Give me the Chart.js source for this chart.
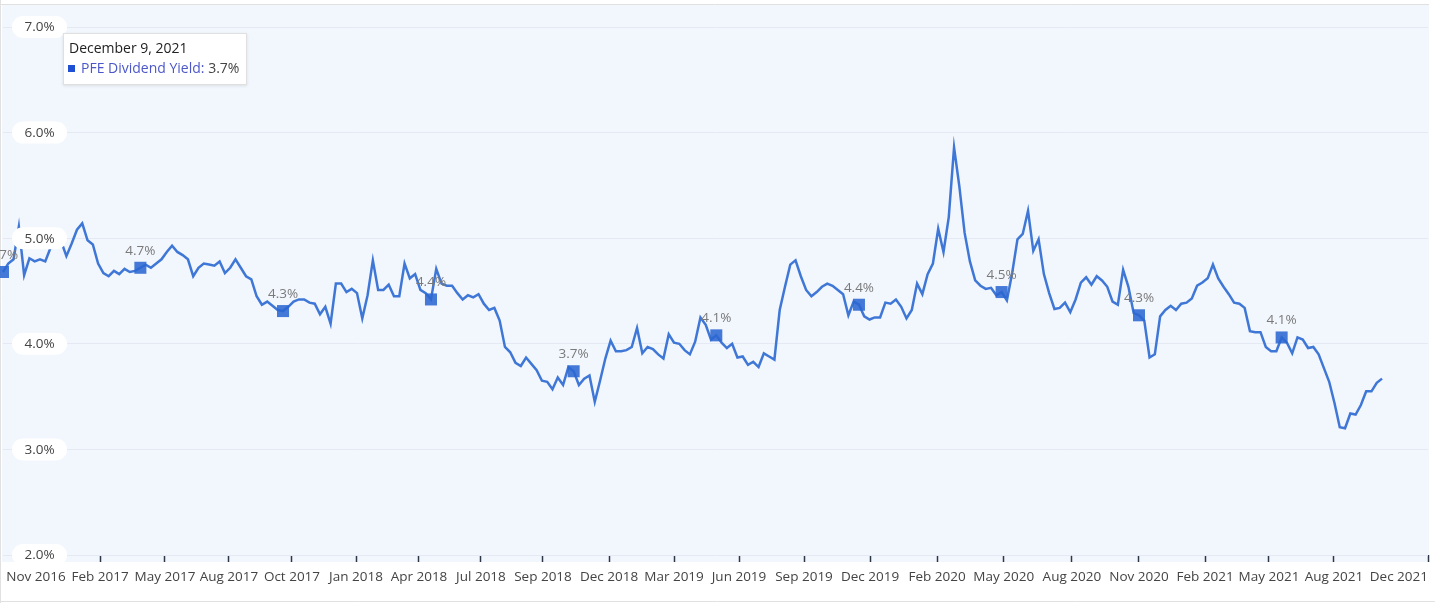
<!DOCTYPE html>
<html>
<head>
<meta charset="utf-8">
<title>PFE Dividend Yield</title>
<script src="https://cdn.jsdelivr.net/npm/chart.js@4/dist/chart.umd.min.js"></script>
<style>
  html, body { margin: 0; padding: 0; background: #fff; }
  #wrap { position: relative; width: 1435px; height: 603px; }
  #tip {
    position: absolute; left: 63px; top: 33px; width: 184px; height: 52px;
    box-sizing: border-box; background: #fff; border: 1px solid #e0e0e0;
    box-shadow: 0 1px 3px rgba(0,0,0,0.10);
    font: 14px "Open Sans", sans-serif;
  }
  #tip .t { position: absolute; left: 5px; top: 4px; line-height: 19px; color: #222; white-space: nowrap; }
  #tip .b { position: absolute; left: 4px; top: 24px; line-height: 19px; color: #444; white-space: nowrap; }
  #tip .sq { display: inline-block; width: 7px; height: 7px; background: #1f4fd3; margin-right: 6px; vertical-align: 1px; }
  #tip .lab { color: #4b57c9; }
</style>
</head>
<body>
<div id="wrap">
  <canvas id="yieldChart" width="1435" height="603"></canvas>
  <div id="tip">
    <div class="t" id="tipDate"></div>
    <div class="b"><span class="sq"></span><span class="lab" id="tipLabel"></span> <span id="tipValue"></span></div>
  </div>
</div>
<script>
// weekly dividend yield (%)
const yieldValues = [
  4.68, 4.76, 4.80, 5.11, 4.65, 4.81, 4.78, 4.80, 4.78, 4.91,
  4.97, 4.97, 4.83, 4.95, 5.08, 5.14, 4.98, 4.94, 4.76, 4.67,
  4.64, 4.69, 4.66, 4.71, 4.68, 4.69, 4.72, 4.75, 4.72, 4.76,
  4.80, 4.87, 4.93, 4.87, 4.84, 4.80, 4.64, 4.72, 4.76, 4.75,
  4.74, 4.78, 4.67, 4.72, 4.80, 4.72, 4.64, 4.61, 4.45, 4.37,
  4.40, 4.36, 4.32, 4.31, 4.35, 4.40, 4.42, 4.42, 4.39, 4.38,
  4.28, 4.35, 4.19, 4.57, 4.57, 4.49, 4.52, 4.48, 4.24, 4.46,
  4.79, 4.51, 4.51, 4.56, 4.45, 4.45, 4.76, 4.62, 4.66, 4.51,
  4.48, 4.42, 4.71, 4.57, 4.55, 4.55, 4.48, 4.42, 4.46, 4.44,
  4.47, 4.38, 4.32, 4.34, 4.22, 3.97, 3.92, 3.82, 3.79, 3.87,
  3.81, 3.75, 3.65, 3.64, 3.57, 3.68, 3.61, 3.78, 3.74, 3.61,
  3.67, 3.70, 3.45, 3.65, 3.86, 4.03, 3.93, 3.93, 3.94, 3.97,
  4.15, 3.91, 3.97, 3.95, 3.90, 3.86, 4.09, 4.01, 4.00, 3.94,
  3.90, 4.02, 4.25, 4.18, 4.04, 4.08, 4.01, 3.96, 4.00, 3.87,
  3.88, 3.80, 3.83, 3.78, 3.91, 3.88, 3.85, 4.32, 4.54, 4.75,
  4.79, 4.64, 4.51, 4.45, 4.49, 4.54, 4.57, 4.55, 4.51, 4.47,
  4.27, 4.40, 4.37, 4.26, 4.23, 4.25, 4.25, 4.39, 4.38, 4.42,
  4.35, 4.24, 4.32, 4.57, 4.47, 4.66, 4.76, 5.09, 4.87, 5.20,
  5.86, 5.49, 5.05, 4.78, 4.60, 4.55, 4.52, 4.53, 4.46, 4.49,
  4.41, 4.67, 4.99, 5.04, 5.26, 4.88, 4.99, 4.66, 4.48, 4.33,
  4.34, 4.39, 4.30, 4.42, 4.58, 4.63, 4.56, 4.64, 4.60, 4.54,
  4.40, 4.37, 4.70, 4.54, 4.29, 4.27, 4.22, 3.87, 3.90, 4.26,
  4.32, 4.36, 4.32, 4.38, 4.39, 4.43, 4.55, 4.58, 4.62, 4.75,
  4.62, 4.54, 4.47, 4.39, 4.38, 4.34, 4.12, 4.11, 4.11, 3.97,
  3.93, 3.93, 4.06, 4.01, 3.91, 4.06, 4.04, 3.96, 3.97, 3.90,
  3.77, 3.64, 3.44, 3.21, 3.20, 3.34, 3.33, 3.42, 3.55, 3.55,
  3.63, 3.67
];

// weeks that carry a square marker + value label
const markerIndex = [0, 26, 53, 81, 108, 135, 162, 189, 215, 242];

// x axis: week position of each date label (last one sits on the axis end)
const tickWeeks = [6.25, 18.36, 30.66, 42.77, 54.69, 66.81, 78.73, 90.46, 102.2, 114.7, 127.0,
  139.3, 151.6, 164.1, 176.8, 189.4, 202.3, 215.0, 227.5, 239.6, 251.9, 269.7];
const tickLabels = ["Nov 2016", "Feb 2017", "May 2017", "Aug 2017", "Oct 2017", "Jan 2018",
  "Apr 2018", "Jul 2018", "Sep 2018", "Dec 2018", "Mar 2019", "Jun 2019", "Sep 2019",
  "Dec 2019", "Feb 2020", "May 2020", "Aug 2020", "Nov 2020", "Feb 2021", "May 2021",
  "Aug 2021", "Dec 2021"];
const yTicks = [2, 3, 4, 5, 6, 7];

const seriesName = "PFE Dividend Yield";
const tooltipDate = "December 9, 2021";

const FONT = '"Open Sans", sans-serif';

const backdrop = {
  id: 'backdrop',
  beforeDraw(chart) {
    const { ctx, chartArea: a, width, height } = chart;
    ctx.save();
    ctx.fillStyle = '#fff';
    ctx.fillRect(0, 0, width, height);
    ctx.fillStyle = '#f2f6fd';
    ctx.fillRect(2, 5, a.right - 1, a.bottom + 7 - 5);
    ctx.strokeStyle = '#e1e1e1';
    ctx.lineWidth = 1;
    ctx.beginPath();
    ctx.moveTo(0, 4.5); ctx.lineTo(a.right + 1, 4.5);
    ctx.moveTo(0.5, 0); ctx.lineTo(0.5, height);
    ctx.moveTo(0, 601.5); ctx.lineTo(width, 601.5);
    ctx.stroke();
    ctx.restore();
  }
};

// white pill labels for y ticks + value labels over the markers
const overlays = {
  id: 'overlays',
  afterDatasetsDraw(chart) {
    const ctx = chart.ctx;
    const y = chart.scales.y;
    ctx.save();
    ctx.font = '13.5px ' + FONT;
    ctx.textAlign = 'center';
    ctx.textBaseline = 'middle';

    const meta = chart.getDatasetMeta(0);
    ctx.fillStyle = '#7a7a7a';
    markerIndex.forEach(i => {
      const p = meta.data[i];
      ctx.fillText(yieldValues[i].toFixed(1) + '%', p.x, p.y - 17);
    });

    y.ticks.forEach(t => {
      const py = y.getPixelForValue(t.value);
      ctx.fillStyle = '#fff';
      ctx.beginPath();
      ctx.roundRect(12, py - 11, 55, 22, 11);
      ctx.fill();
      ctx.fillStyle = '#444';
      ctx.fillText(t.value.toFixed(1) + '%', 39.5, py + 0.5);
    });
    ctx.restore();
  }
};

new Chart(document.getElementById('yieldChart'), {
  type: 'line',
  data: {
    datasets: [{
      label: seriesName,
      data: yieldValues.map((v, i) => ({ x: i, y: v })),
      borderColor: '#3f77d6',
      borderWidth: 2.5,
      tension: 0,
      fill: false,
      clip: false,
      pointStyle: 'rect',
      pointRadius: ctx => markerIndex.includes(ctx.dataIndex) ? 8.5 : 0,
      pointBackgroundColor: 'rgba(44,104,210,0.88)',
      pointBorderWidth: 0
    }]
  },
  options: {
    responsive: false,
    animation: false,
    events: [],
    // autoPadding would push the plot in by the marker size; the plot spans 3..1428
    layout: { autoPadding: false, padding: { top: 27, left: 3, right: 7, bottom: 0 } },
    plugins: { legend: { display: false }, tooltip: { enabled: false } },
    scales: {
      x: {
        type: 'linear',
        min: 0,
        max: tickWeeks[tickWeeks.length - 1],
        // an unlabelled anchor tick at the axis start lets 'inner' keep the real first label centred
        afterBuildTicks: s => { s.ticks = [{ value: 0 }].concat(tickWeeks.map(v => ({ value: v }))); },
        afterFit: s => { s.height = 48; s.paddingLeft = 0; s.paddingRight = 0; },
        border: { display: false },
        grid: {
          drawOnChartArea: false, drawTicks: true, tickLength: 7, tickWidth: 1.5,
          tickColor: c => c.index === 0 ? 'rgba(0,0,0,0)' : '#2d3748'
        },
        ticks: {
          autoSkip: false, maxRotation: 0, align: 'inner', padding: 7,
          color: '#444', font: { family: FONT, size: 13.5 },
          callback: (v, i) => i === 0 ? '' : tickLabels[i - 1]
        }
      },
      y: {
        min: 2,
        max: 7,
        afterBuildTicks: s => { s.ticks = yTicks.map(v => ({ value: v })); },
        afterFit: s => { s.width = 0; },
        border: { display: false },
        grid: { color: '#e4e9f3', drawTicks: false },
        ticks: { display: false }
      }
    }
  },
  plugins: [backdrop, overlays]
});

document.getElementById('tipDate').textContent = tooltipDate;
document.getElementById('tipLabel').textContent = seriesName + ':';
document.getElementById('tipValue').textContent = yieldValues[yieldValues.length - 1].toFixed(1) + '%';
</script>
</body>
</html>
